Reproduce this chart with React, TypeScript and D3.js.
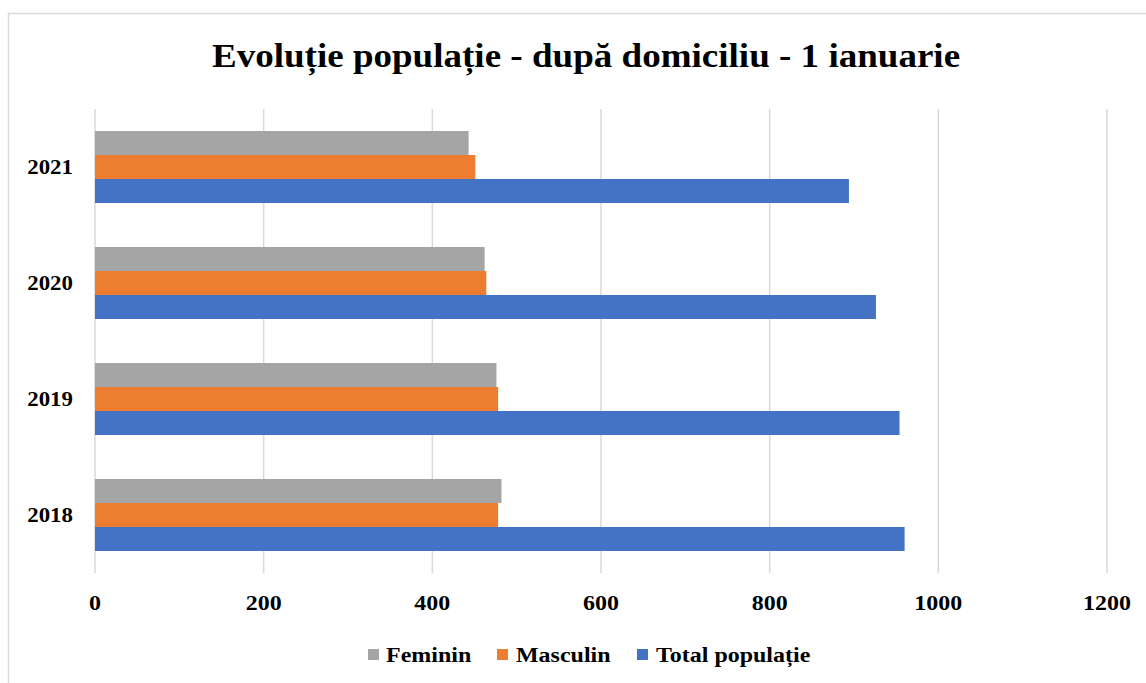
import React from "react";
import * as d3 from "d3";

const years = ["2021", "2020", "2019", "2018"];
const seriesNames = ["Feminin", "Masculin", "Total populație"];
const feminin = [443, 462, 476, 482];
const masculin = [451, 464, 478, 478];
const total = [894, 926, 954, 960];
const xTicks = [0, 200, 400, 600, 800, 1000, 1200];
const colors = ["#A5A5A5", "#ED7D31", "#4472C4"];
const title = "Evoluție populație - după domiciliu - 1 ianuarie";

const W = 1146;
const H = 683;
const FONT = "'Liberation Serif', 'Times New Roman', serif";
const SX = 1.09;

function T(props: { x: number; y: number; size: number; anchor?: string; children: React.ReactNode }) {
  return (
    <text
      transform={`translate(${props.x},${props.y}) scale(${SX},1)`}
      textAnchor={props.anchor || "start"}
      fontFamily={FONT}
      fontWeight="bold"
      fontSize={props.size}
      fill="#000"
    >
      {props.children}
    </text>
  );
}

export default function App() {
  const x = d3.scaleLinear().domain([0, 1200]).range([95, 1107]);
  const y = d3.scaleBand<string>().domain(years).range([109, 573]);
  const sub = d3.scaleBand<string>().domain(seriesNames).range([-36, 36]);
  const values = [feminin, masculin, total];

  const legendItems = [
    { name: seriesNames[0], sx: 368, tx: 386 },
    { name: seriesNames[1], sx: 497, tx: 516 },
    { name: seriesNames[2], sx: 637, tx: 656 },
  ];

  return (
    <div style={{ position: "absolute", left: 0, top: 0 }}>
      <svg width={W} height={H} style={{ display: "block", background: "#fff" }}>
        <rect x={8.5} y={13.5} width={W + 20} height={H + 20} fill="#fff" stroke="#D9D9D9" strokeWidth={1.5} />
        <T x={586} y={67} size={34} anchor="middle">{title}</T>
        {xTicks.map((t) => (
          <line key={"g" + t} x1={x(t)} x2={x(t)} y1={109} y2={573} stroke="#D9D9D9" strokeWidth={1.5} />
        ))}
        {values.map((vals, si) =>
          vals.map((v, i) => {
            const cy = (y(years[i]) as number) + y.bandwidth() / 2;
            return (
              <rect
                key={si + "-" + i}
                x={x(0)}
                y={cy + (sub(seriesNames[si]) as number)}
                width={x(v) - x(0)}
                height={sub.bandwidth()}
                fill={colors[si]}
              />
            );
          })
        )}
        {years.map((yr) => (
          <T key={yr} x={73} y={(y(yr) as number) + y.bandwidth() / 2 + 7} size={21} anchor="end">
            {yr}
          </T>
        ))}
        {xTicks.map((t) => (
          <T key={"t" + t} x={x(t)} y={610} size={22} anchor="middle">
            {t}
          </T>
        ))}
        {legendItems.map((it, i) => (
          <g key={it.name}>
            <rect x={it.sx} y={649} width={11} height={11} fill={colors[i]} />
            <T x={it.tx} y={662} size={22}>{it.name}</T>
          </g>
        ))}
      </svg>
    </div>
  );
}
